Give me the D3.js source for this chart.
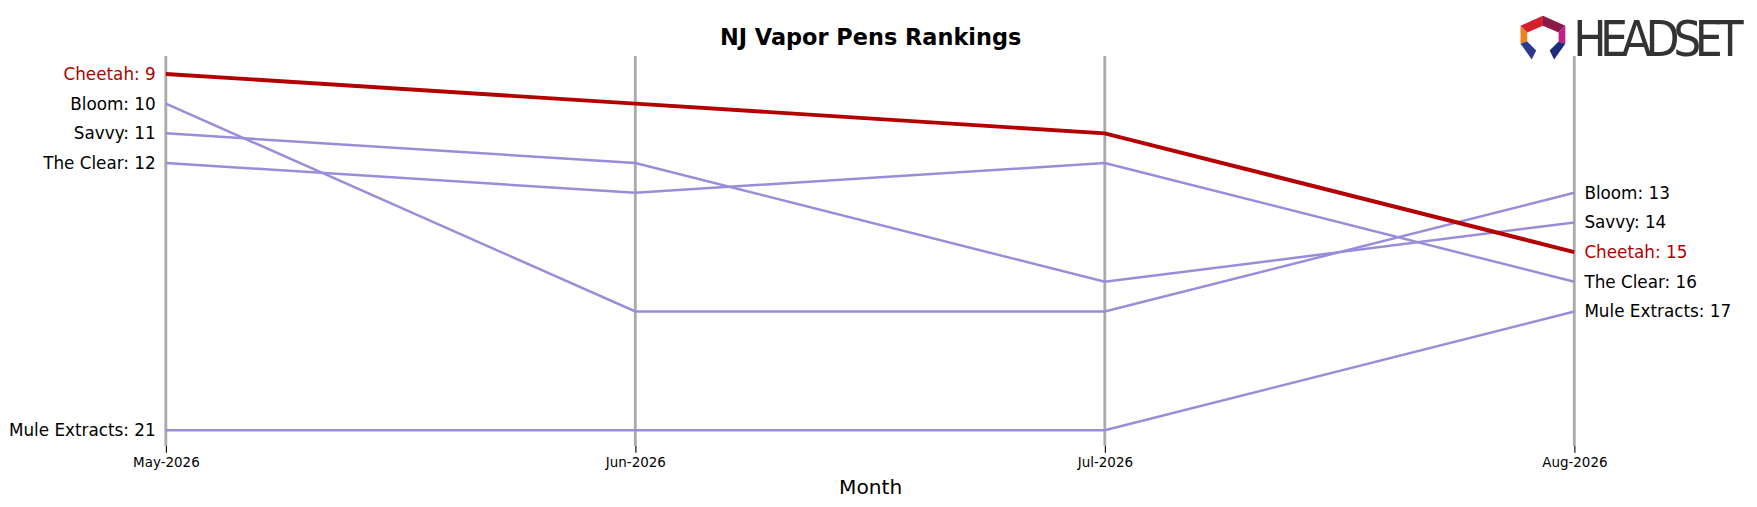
<!DOCTYPE html><html><head><script src="https://cdn.jsdelivr.net/npm/d3@7"></script>
<style>body{margin:0;background:#fff}</style></head><body><svg id="c" width="1757" height="507"></svg>
<script>
const months=["May-2026","Jun-2026","Jul-2026","Aug-2026"];
const cheetah=[9,10,11,15];
const bloom=[10,17,17,13];
const savvy=[11,12,16,14];
const theClear=[12,13,12,16];
const mule=[21,21,21,17];
const series=[bloom,savvy,theClear,mule,cheetah];
const names=["Bloom","Savvy","The Clear","Mule Extracts","Cheetah"];
const svg=d3.select("#c").append("g").attr("transform","scale(1.1205)");
const x=d3.scalePoint().domain(months).range([148,1405]);
const y=d3.scaleLinear().domain([9,21]).range([66,384]);
const font="DejaVu Sans";
months.forEach(m=>svg.append("line").attr("x1",x(m)).attr("x2",x(m)).attr("y1",50).attr("y2",398).attr("stroke","#aaa").attr("stroke-width",2.5));
const ax=svg.append("g").attr("transform","translate(0,398)").call(d3.axisBottom(x).tickSize(6).tickPadding(4));
ax.select(".domain").remove();
ax.selectAll("text").attr("font-family",font).attr("font-size",12).attr("fill","#000");
ax.selectAll("line").attr("stroke","#000");
const line=d3.line().x((d,i)=>x(months[i])).y(d=>y(d));
series.forEach((s,k)=>{const hl=names[k]==="Cheetah";
 svg.append("path").datum(s).attr("d",line).attr("fill","none").attr("stroke",hl?"#b30000":"#9b8cda").attr("stroke-width",hl?3.5:2.2);
 svg.append("text").attr("x",x(months[0])-9).attr("y",y(s[0])).attr("dy","0.35em").attr("text-anchor","end").attr("font-family",font).attr("font-size",15).attr("fill",hl?"#b30000":"#000").text(names[k]+": "+s[0]);
 svg.append("text").attr("x",x(months[3])+9).attr("y",y(s[3])).attr("dy","0.35em").attr("font-family",font).attr("font-size",15).attr("fill",hl?"#b30000":"#000").text(names[k]+": "+s[3]);
});
svg.append("text").attr("x",777).attr("y",40).attr("text-anchor","middle").attr("font-family",font).attr("font-weight","bold").attr("font-size",20).text("NJ Vapor Pens Rankings");
svg.append("text").attr("x",777).attr("y",441).attr("text-anchor","middle").attr("font-family",font).attr("font-size",18).text("Month");
const g=svg.append("g").attr("transform","translate(1377,33)");
g.append("polygon").attr("points","-20,-10 0,-19 0,-10 -14,-4").attr("fill","#d4202c");
g.append("polygon").attr("points","0,-19 20,-10 14,-4 0,-10").attr("fill","#8b1a4a");
g.append("polygon").attr("points","20,-10 20,6 14,4 14,-4").attr("fill","#c41e8a");
g.append("polygon").attr("points","-20,-10 -14,-4 -14,4 -20,6").attr("fill","#f08020");
g.append("polygon").attr("points","-20,6 -14,4 -6,12 -10,20").attr("fill","#2a3a8f");
g.append("polygon").attr("points","20,6 14,4 6,12 10,20").attr("fill","#1f2d7a");
svg.append("text").attr("x",1404).attr("y",50).attr("font-family","Liberation Sans Narrow, DejaVu Sans Condensed").attr("font-size",44).attr("fill","#333").attr("textLength",152).text("HEADSET");
</script></body></html>
